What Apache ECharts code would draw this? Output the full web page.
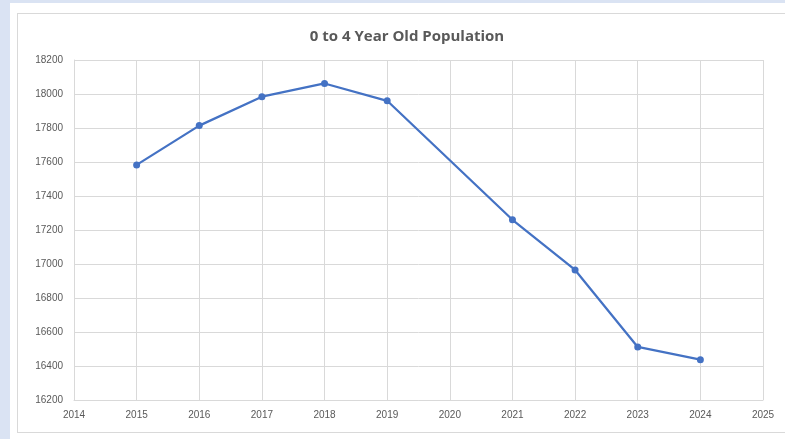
<!DOCTYPE html>
<html>
<head>
<meta charset="utf-8">
<script src="https://cdn.jsdelivr.net/npm/echarts@6/dist/echarts.min.js"></script>
<style>
  html, body { margin: 0; padding: 0; }
  body { width: 785px; height: 439px; background: #dae3f3; position: relative; overflow: hidden; }
  .sheet { position: absolute; left: 10px; top: 3px; right: 0; bottom: 0; background: #fff; }
  .frame { position: absolute; left: 17px; top: 13px; width: 790px; height: 418px; border: 1px solid #d9d9d9; background: #fff; }
  #chart { position: absolute; left: 0; top: 0; width: 785px; height: 439px; }
</style>
</head>
<body>
<div class="sheet"></div>
<div class="frame"></div>
<div id="chart"></div>
<script>
// years with data (2020 has no value)
const years = [2015, 2016, 2017, 2018, 2019, 2021, 2022, 2023, 2024];
const population = [17583, 17814, 17984, 18062, 17960, 17260, 16965, 16512, 16437];

const chartDom = document.getElementById('chart');
const myChart = echarts.init(chartDom, null, { renderer: 'canvas' });

const labelColor = '#595959';
const gridColor = '#d9d9d9';

const option = {
  animation: false,
  title: {
    text: '0 to 4 Year Old Population',
    left: 402,
    top: 24,
    textAlign: 'center',
    textStyle: {
      fontFamily: 'Open Sans',
      fontSize: 15,
      fontWeight: 'bold',
      color: labelColor
    }
  },
  grid: {
    left: 74,
    top: 60,
    width: 689,
    height: 340
  },
  xAxis: {
    type: 'value',
    min: 2014,
    max: 2025,
    interval: 1,
    axisLine: { show: true, lineStyle: { color: gridColor, width: 1 } },
    axisTick: { show: false },
    axisLabel: {
      margin: 10,
      color: labelColor,
      fontFamily: 'Liberation Sans',
      fontSize: 10,
      formatter: v => String(v)
    },
    splitLine: { show: true, lineStyle: { color: gridColor, width: 1 } }
  },
  yAxis: {
    type: 'value',
    min: 16200,
    max: 18200,
    interval: 200,
    axisLine: { show: true, lineStyle: { color: gridColor, width: 1 } },
    axisTick: { show: false },
    axisLabel: {
      margin: 11,
      color: labelColor,
      fontFamily: 'Liberation Sans',
      fontSize: 10,
      formatter: v => String(v)
    },
    splitLine: { show: true, lineStyle: { color: gridColor, width: 1 } }
  },
  series: [
    {
      type: 'line',
      data: years.map((y, i) => [y, population[i]]),
      symbol: 'circle',
      symbolSize: 7,
      color: '#4472c4',
      lineStyle: { width: 2.25, color: '#4472c4' },
      itemStyle: { color: '#4472c4' }
    }
  ]
};
myChart.setOption(option);
</script>
</body>
</html>
